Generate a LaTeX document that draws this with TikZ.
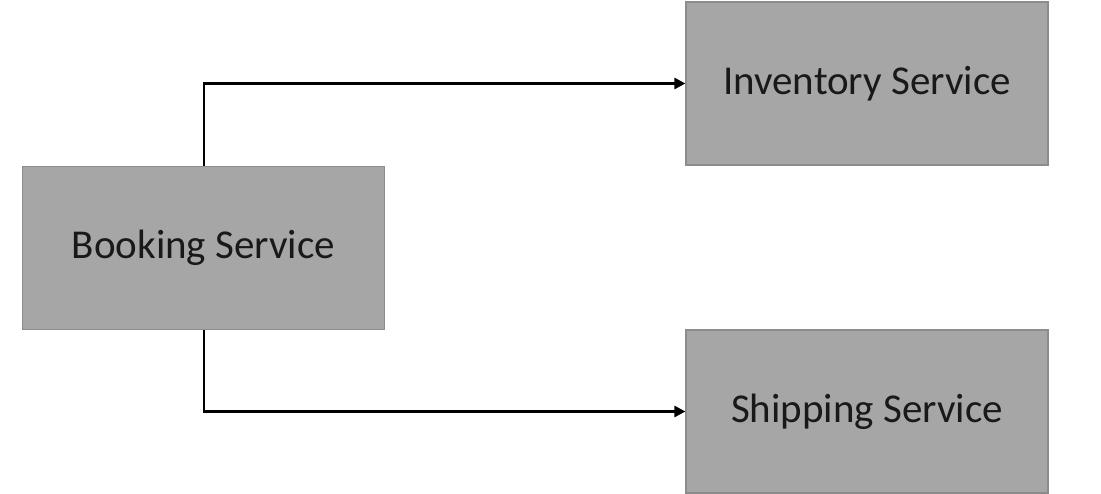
\documentclass[tikz,border=0pt]{standalone}
\usepackage{fontspec}
\setmainfont{Carlito}
\usetikzlibrary{arrows.meta}
\begin{document}
\begin{tikzpicture}[x=1pt,y=-1pt,
  svc/.style={draw=black!45,line width=1.2pt,fill=black!35,minimum width=362pt,minimum height=163pt,inner sep=0pt,font=\fontsize{41}{48}\selectfont,text=black!90},
  conn/.style={line width=2.6pt,-{Triangle[length=11pt,width=11pt]}}]
\useasboundingbox (0,0) rectangle (1101,494);
\node[svc] (book) at (203.5,248) {Booking Service};
\node[svc] (inv) at (867,83.5) {Inventory Service};
\node[svc] (ship) at (867,411.5) {Shipping Service};
\draw[conn] (book.north -| 204,0) |- (inv.west);
\draw[conn] (book.south -| 204,0) |- (ship.west);
\end{tikzpicture}
\end{document}
